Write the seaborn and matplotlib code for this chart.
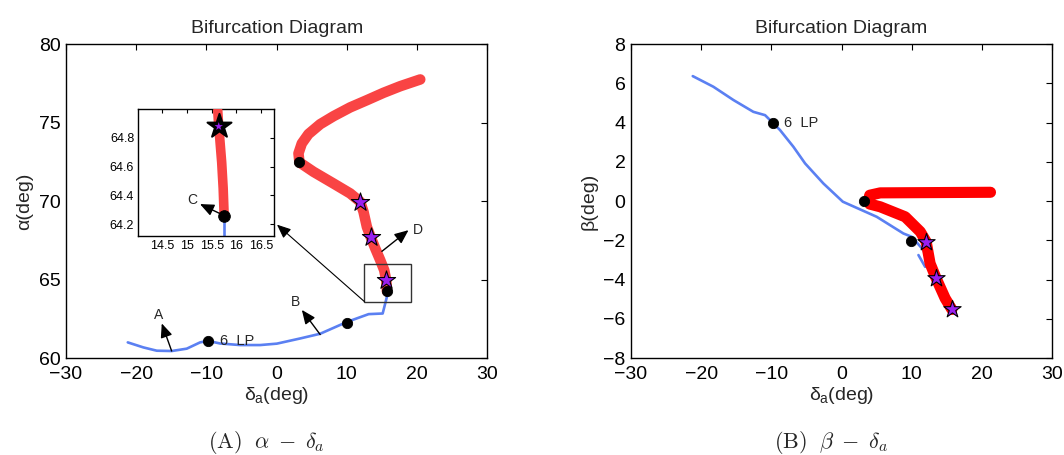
import numpy as np
import seaborn as sns
import matplotlib
matplotlib.use("Agg")
import matplotlib.pyplot as plt
from matplotlib.patches import Rectangle

# ---- data ----
# (A) alpha vs delta_a
alpha_blue_x = [-21.2, -18.98, -17.07, -14.94, -12.8, -10.9, -9.8, -8.05, -5.2, -2.35, 0.03, 3.35, 6.2, 10.0, 13.1, 15.1, 15.7, 15.7]
alpha_blue_y = [61.0, 60.68, 60.47, 60.45, 60.6, 61.0, 61.1, 60.93, 60.83, 60.83, 60.92, 61.25, 61.55, 62.3, 62.8, 62.84, 63.9, 64.27]
alpha_red_x = [15.7, 15.7, 15.6, 15.32, 14.75, 14.04, 13.4, 12.85, 12.37, 11.9, 10.47, 8.1, 5.24, 3.25,
               3.11, 3.58, 4.53, 6.2, 8.1, 10.47, 12.85, 15.22, 17.6, 20.45]
alpha_red_y = [64.27, 64.44, 64.97, 65.6, 66.24, 66.99, 67.7, 68.36, 69.32, 69.96, 70.49, 71.12, 71.87, 72.47,
               73.04, 73.67, 74.27, 74.9, 75.41, 75.97, 76.43, 76.9, 77.32, 77.75]
alpha_dot_x = [-9.8, 10.0, 15.7, 3.25]
alpha_dot_y = [61.1, 62.25, 64.27, 72.47]
alpha_star_x = [15.6, 13.4, 11.9]
alpha_star_y = [64.97, 67.7, 69.96]

# zoomed inset
zoom_red_x = [15.75, 15.73, 15.70, 15.66, 15.64, 15.62]
zoom_red_y = [64.26, 64.45, 64.63, 64.80, 64.88, 64.99]
zoom_blue_x = [15.75, 15.75]
zoom_blue_y = [64.26, 64.10]
zoom_dot = (15.75, 64.26)
zoom_star = (15.64, 64.88)

# (B) beta vs delta_a
beta_blue_x = [-21.2, -18.27, -15.4, -12.57, -10.9, -9.8, -8.77, -6.87, -5.2, -2.6, 0.17, 5.0, 8.8, 10.0, 11.66, 12.6]
beta_blue_y = [6.37, 5.83, 5.15, 4.55, 4.38, 3.99, 3.62, 2.77, 1.92, 0.9, -0.03, -0.8, -1.65, -1.82, -2.5, -3.5]
beta_blue2_x = [10.94, 11.9]
beta_blue2_y = [-2.75, -3.35]
beta_red_x = [21.2, 5.5, 4.0, 3.85, 4.0, 5.5, 9.05, 11.2, 12.04, 12.6, 13.47, 14.75, 15.7]
beta_red_y = [0.45, 0.42, 0.3, 0.05, -0.15, -0.29, -0.8, -1.56, -2.07, -3.18, -3.94, -4.96, -5.52]
beta_dot_x = [-9.8, 9.9, 3.25]
beta_dot_y = [3.99, -2.02, 0.0]
beta_star_x = [12.04, 13.47, 15.7]
beta_star_y = [-2.07, -3.94, -5.52]

# labels / annotations
lp_label = "6  LP"
arrow_labels = {"A": ((-14.95, 60.45), (-16.36, 62.21), (-16.75, 62.75)),
                "B": ((6.2, 61.5), (3.59, 63.07), (2.64, 63.6)),
                "D": ((14.99, 66.8), (18.78, 68.15), (20.1, 68.15))}

BLUE = "#5b80f2"
RED_A = "#f94444"
RED_B = "#ff0000"
PURPLE = "#9a1ff0"

sns.set_theme(style="white")
plt.rcParams["font.family"] = ["Liberation Sans", "DejaVu Sans"]
plt.rcParams["mathtext.fontset"] = "custom"
plt.rcParams["mathtext.rm"] = "Liberation Sans"
plt.rcParams["mathtext.it"] = "Liberation Sans"
plt.rcParams["mathtext.bf"] = "Liberation Sans:bold"

fig = plt.figure(figsize=(10.64, 4.55), dpi=100)
ax1 = fig.add_axes([0.062, 0.213, 0.396, 0.690])
ax2 = fig.add_axes([0.593, 0.213, 0.396, 0.690])
axz = fig.add_axes([0.130, 0.482, 0.1275, 0.278])

ARROW = dict(arrowstyle="-|>,head_length=0.7,head_width=0.3", color="black", lw=1.0,
             shrinkA=0, shrinkB=0)


def style_axes(ax, labelsize=14):
    for s in ax.spines.values():
        s.set_visible(True)
        s.set_color("black")
        s.set_linewidth(1.0)
    ax.tick_params(direction="in", top=True, right=True, length=4, width=0.8,
                   labelsize=labelsize, colors="black")
    ax.tick_params(axis="x", pad=6)
    ax.tick_params(axis="y", pad=4)
    ax.grid(False)


def line(ax, x, y, color, lw, zorder=2):
    sns.lineplot(x=x, y=y, sort=False, estimator=None, color=color, linewidth=lw,
                 ax=ax, zorder=zorder, solid_capstyle="round", solid_joinstyle="round")


# ---- (A) ----
line(ax1, alpha_blue_x, alpha_blue_y, BLUE, 1.9)
line(ax1, alpha_red_x, alpha_red_y, RED_A, 7.6, zorder=3)
sns.scatterplot(x=alpha_dot_x, y=alpha_dot_y, color="black", s=55, edgecolor="black", ax=ax1, zorder=4)
sns.scatterplot(x=alpha_star_x, y=alpha_star_y, marker="*", color=PURPLE, s=190,
                edgecolor="black", linewidth=0.8, ax=ax1, zorder=5)
ax1.text(-8.0, 61.1, lp_label, fontsize=10.5, va="center", ha="left")
for lab, (tail, head, pos) in arrow_labels.items():
    ax1.annotate("", xy=head, xytext=tail, arrowprops=ARROW, zorder=6)
    ax1.text(pos[0], pos[1], lab, fontsize=10, ha="center", va="center")
ax1.add_patch(Rectangle((12.5, 63.6), 6.7, 2.4, fill=False, edgecolor="#333333", linewidth=1.0, zorder=6))
ax1.annotate("", xy=(0.05, 68.5), xytext=(12.5, 63.6),
             arrowprops=dict(ARROW, lw=0.8), zorder=6)
ax1.set_xlim(-30, 30)
ax1.set_ylim(60, 80)
ax1.set_xticks(np.arange(-30, 31, 10))
ax1.set_yticks(np.arange(60, 81, 5))
ax1.set_title("Bifurcation Diagram", fontsize=14, pad=8)
ax1.set_xlabel(r"$\delta_a$(deg)", fontsize=14, labelpad=1)
ax1.set_ylabel(r"α(deg)", fontsize=14, labelpad=4)
style_axes(ax1)

# ---- inset ----
line(axz, zoom_blue_x, zoom_blue_y, BLUE, 1.9)
line(axz, zoom_red_x, zoom_red_y, RED_A, 6.9, zorder=3)
sns.scatterplot(x=[zoom_dot[0]], y=[zoom_dot[1]], color="black", s=70, edgecolor="black", ax=axz, zorder=4)
sns.scatterplot(x=[zoom_star[0]], y=[zoom_star[1]], marker="*", color="black", s=330,
                edgecolor="black", ax=axz, zorder=5)
sns.scatterplot(x=[zoom_star[0]], y=[zoom_star[1]], marker="*", color=PURPLE, s=40,
                edgecolor="none", ax=axz, zorder=6)
axz.annotate("", xy=(15.26, 64.34), xytext=zoom_dot, arrowprops=ARROW, zorder=6)
axz.text(15.11, 64.37, "C", fontsize=10, ha="center", va="center")
axz.set_xlim(14.01, 16.76)
axz.set_ylim(64.12, 65.0)
axz.set_xticks([14.5, 15, 15.5, 16, 16.5])
axz.set_xticklabels(["14.5", "15", "15.5", "16", "16.5"])
axz.set_yticks([64.2, 64.4, 64.6, 64.8])
style_axes(axz, labelsize=9)
axz.tick_params(length=3, pad=3)

# ---- (B) ----
line(ax2, beta_blue_x, beta_blue_y, BLUE, 1.9)
line(ax2, beta_blue2_x, beta_blue2_y, BLUE, 1.9)
line(ax2, beta_red_x, beta_red_y, RED_B, 8.0, zorder=3)
sns.scatterplot(x=beta_dot_x, y=beta_dot_y, color="black", s=55, edgecolor="black", ax=ax2, zorder=4)
sns.scatterplot(x=beta_star_x, y=beta_star_y, marker="*", color=PURPLE, s=170,
                edgecolor="black", linewidth=0.8, ax=ax2, zorder=5)
ax2.text(-8.2, 3.99, lp_label, fontsize=10.5, va="center", ha="left")
ax2.set_xlim(-30, 30)
ax2.set_ylim(-8, 8)
ax2.set_xticks(np.arange(-30, 31, 10))
ax2.set_yticks(np.arange(-8, 9, 2))
ax2.set_title("Bifurcation Diagram", fontsize=14, pad=8)
ax2.set_xlabel(r"$\delta_a$(deg)", fontsize=14, labelpad=1)
ax2.set_ylabel(r"β(deg)", fontsize=14, labelpad=4)
style_axes(ax2)

# captions
fig.text(266 / 1064, 1 - 442 / 455, r"$(\mathrm{A})\ \ \alpha\;-\;\delta_a$", fontsize=16,
         ha="center", va="center", math_fontfamily="cm")
fig.text(831 / 1064, 1 - 442 / 455, r"$(\mathrm{B})\ \ \beta\;-\;\delta_a$", fontsize=16,
         ha="center", va="center", math_fontfamily="cm")

fig.savefig("out.png", dpi=100)
